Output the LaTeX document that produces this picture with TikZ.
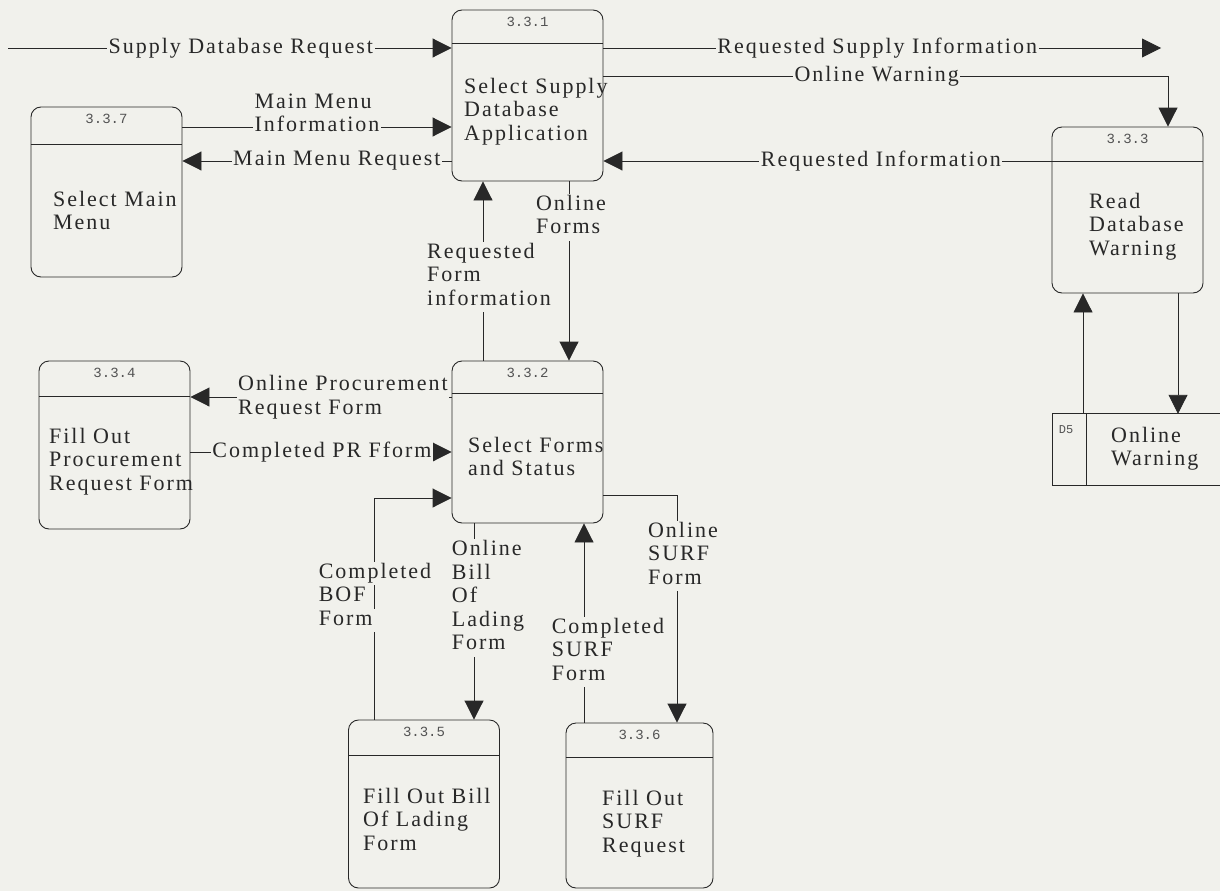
\documentclass[tikz,border=0pt]{standalone}
\usepackage{fontspec}
\setmainfont{Liberation Serif}[LetterSpace=9]
\newfontfamily\idfont{Liberation Mono}
\usepackage{xcolor}
\usetikzlibrary{arrows.meta}

\definecolor{paper}{RGB}{241,241,236}
\definecolor{ink}{RGB}{40,40,40}
\setlength{\fboxsep}{0pt}
% one row of a label that cuts the line under it
\newcommand{\lrow}[1]{\colorbox{paper}{\strut\,#1\,}}

\begin{document}
\begin{tikzpicture}[x=1pt, y=-1pt,
    proc/.style={draw=ink, line width=0.9pt, rounded corners=10pt,
        minimum width=151pt, minimum height=168pt, inner sep=0pt},
    hdr/.style={draw=ink, line width=0.9pt},
    pid/.style={font=\idfont\fontsize{14}{16}\selectfont, text=ink!80},
    ptext/.style={anchor=north west, align=left, inner sep=0pt,
        font=\fontsize{22}{23.5}\selectfont, text=ink},
    flow/.style={draw=ink, line width=0.9pt, -{Triangle[length=19pt,width=19pt]}},
    lbl/.style={fill=paper, inner sep=1.5pt, align=left,
        font=\fontsize{22}{23.5}\selectfont, text=ink},
    rows/.style={inner sep=0pt, align=left,
        font=\fontsize{22}{23.5}\selectfont, text=ink}]

\fill[paper] (0,0) rectangle (1220,891);
\useasboundingbox (0,0) rectangle (1220,891);

% Processes
\node[proc, minimum height=171pt] (p331) at (527.5,95.5) {};
\node[proc, minimum height=162pt] (p332) at (527.5,442) {};
\node[proc, minimum height=166pt] (p333) at (1127.5,210) {};
\node[proc] (p334) at (114.5,445) {};
\node[proc] (p335) at (424,804) {};
\node[proc, minimum width=147pt, minimum height=165pt] (p336) at (639.5,805.5) {};
\node[proc, minimum height=170pt] (p337) at (106.5,192) {};

\draw[hdr] ([yshift=-34pt]p331.north west) -- ([yshift=-34pt]p331.north east);
\draw[hdr] ([yshift=-33pt]p332.north west) -- ([yshift=-33pt]p332.north east);
\draw[hdr] ([yshift=-35pt]p333.north west) -- ([yshift=-35pt]p333.north east);
\draw[hdr] ([yshift=-36pt]p334.north west) -- ([yshift=-36pt]p334.north east);
\draw[hdr] ([yshift=-36pt]p335.north west) -- ([yshift=-36pt]p335.north east);
\draw[hdr] ([yshift=-35pt]p336.north west) -- ([yshift=-35pt]p336.north east);
\draw[hdr] ([yshift=-38pt]p337.north west) -- ([yshift=-38pt]p337.north east);

\node[pid] (id331) at ([yshift=-12pt]p331.north) {3.3.1};
\node[pid] (id332) at ([yshift=-12pt]p332.north) {3.3.2};
\node[pid] (id333) at ([yshift=-12pt]p333.north) {3.3.3};
\node[pid] (id334) at ([yshift=-12pt]p334.north) {3.3.4};
\node[pid] (id335) at ([yshift=-12pt]p335.north) {3.3.5};
\node[pid] (id336) at ([yshift=-12pt]p336.north) {3.3.6};
\node[pid] (id337) at ([yshift=-12pt]p337.north) {3.3.7};

\node[ptext] (t331) at (464,78) {Select Supply\\Database\\Application};
\node[ptext] (t332) at (468,437) {Select Forms\\and Status};
\node[ptext] (t333) at (1089,193) {Read\\Database\\Warning};
\node[ptext] (t334) at (49,428) {Fill Out\\Procurement\\Request Form};
\node[ptext] (t335) at (363,788) {Fill Out Bill\\Of Lading\\Form};
\node[ptext] (t336) at (602,790) {Fill Out\\SURF\\Request};
\node[ptext] (t337) at (53,191) {Select Main\\Menu};

% Data store
\node[inner sep=0pt, minimum width=167pt, minimum height=71pt] (d5) at (1136.5,449.5) {};
\draw[hdr] (d5.north east) -- (d5.north west) -- (d5.south west) -- (d5.south east);
\draw[hdr] ([xshift=34pt]d5.north west) -- ([xshift=34pt]d5.south west);
\node[pid, font=\idfont\fontsize{12}{14}\selectfont] (idd5) at (1066,430) {D5};
\node[ptext] (td5) at (1111,427) {Online\\Warning};

% Flows
\coordinate (src) at (8,48);
\coordinate (sink) at (1161,48);
\coordinate (ow) at (1168,76);
\coordinate (osf) at (677,495);

\draw[flow] (src) -- (src -| p331.west)
    node[lbl, pos=0.525] {Supply Database Request};
\draw[flow] (p331.east |- src) -- (sink)
    node[lbl, pos=0.491] {Requested Supply Information};
\draw[flow] (p331.east |- ow) -- node[lbl, pos=0.484] {Online Warning} (ow) -- (ow |- p333.north);
\draw[flow] (p333.west |- 0,161) -- (p331.east |- 0,161)
    node[lbl, pos=0.381] {Requested Information};
\draw[flow] (p337.east |- 0,127) -- (p331.west |- 0,127)
    node[lbl, pos=0.5, yshift=14pt] {Main Menu\\Information};
\draw[flow] (p331.west |- 0,161) -- (p337.east |- 0,161)
    node[lbl, pos=0.426] {Main Menu Request};

\draw[flow] ([xshift=-44.5pt]p332.north) -- ([xshift=-44.5pt]p331.south)
    node[rows, pos=0.467, xshift=6pt] {\lrow{Requested}\\\lrow{Form}\\\lrow{information}};
\draw[flow] ([xshift=41.5pt]p331.south) -- ([xshift=41.5pt]p332.north)
    node[rows, pos=0.2, xshift=2pt] {\lrow{Online}\\\lrow{Forms}};

\draw[flow] (p332.west |- 0,397) -- (p334.east |- 0,397)
    node[lbl, pos=0.416] {Online Procurement\\Request Form};
\draw[flow] (p334.east |- 0,452) -- (p332.west |- 0,452)
    node[lbl, pos=0.504] {Completed PR Fform};

\draw[flow] ([xshift=-50pt]p335.north) -- node[rows, pos=0.554, xshift=1pt] {\lrow{Completed}\\\lrow{BOF}\\\lrow{Form}}
    ([xshift=-50pt]p335.north |- 0,498) -- (p332.west |- 0,498);
\draw[flow] ([xshift=-53.5pt]p332.south) -- ([xshift=-53.5pt]p332.south |- p335.north)
    node[rows, pos=0.381, xshift=14pt] {\lrow{Online}\\\lrow{Bill}\\\lrow{Of}\\\lrow{Lading}\\\lrow{Form}};
\draw[flow] ([xshift=-55.5pt]p336.north) -- ([xshift=-55.5pt]p336.north |- p332.south)
    node[rows, pos=0.355, xshift=24pt] {\lrow{Completed}\\\lrow{SURF}\\\lrow{Form}};
\draw[flow] (p332.east |- osf) -- (osf) -- (osf |- p336.north)
    node[rows, pos=0.268, xshift=6pt] {\lrow{Online}\\\lrow{SURF}\\\lrow{Form}};

\draw[flow] ([xshift=50.5pt]p333.south) -- ([xshift=50.5pt]p333.south |- d5.north);
\draw[flow] ([xshift=-44.5pt]d5.north -| p333.south) -- ([xshift=-44.5pt]p333.south);

\end{tikzpicture}
\end{document}
